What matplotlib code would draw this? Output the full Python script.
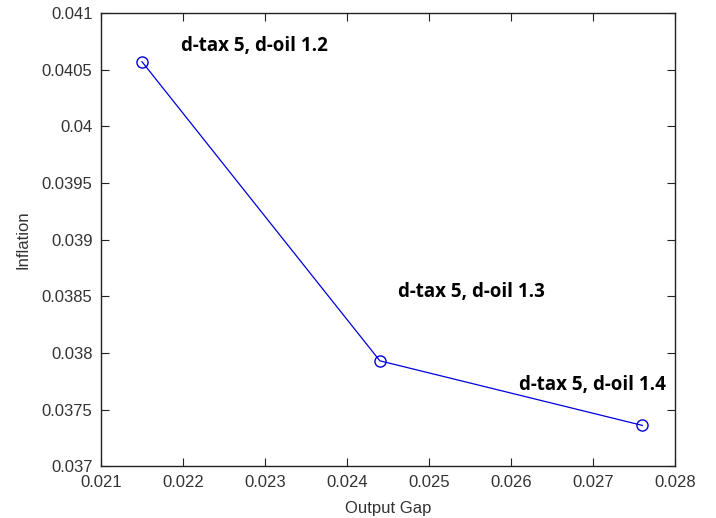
import matplotlib
matplotlib.use("Agg")
import matplotlib.pyplot as plt

output_gap = [0.0215, 0.0244, 0.0276]
inflation = [0.04057, 0.03793, 0.03736]
point_labels = ["d-tax 5, d-oil 1.2", "d-tax 5, d-oil 1.3", "d-tax 5, d-oil 1.4"]
label_x = [0.02198, 0.02462, 0.02610]
label_y = [0.04071, 0.03854, 0.03772]

plt.rcParams['font.family'] = ['Liberation Sans', 'DejaVu Sans']

fig = plt.figure(figsize=(7.16, 5.18), dpi=100)
ax = fig.add_axes([0.141, 0.100, 0.802, 0.875])

ax.plot(output_gap, inflation, color='#0000dd', linewidth=0.9,
        marker='o', markersize=8, markerfacecolor='none', markeredgecolor='#0000dd')

for x, y, s in zip(label_x, label_y, point_labels):
    ax.text(x, y, s, fontsize=13.5, fontweight='bold', family='Open Sans',
            ha='left', va='center')

ax.set_xlim(0.021, 0.028)
ax.set_ylim(0.037, 0.041)
ax.set_xticks([0.021, 0.022, 0.023, 0.024, 0.025, 0.026, 0.027, 0.028])
ax.set_xticklabels(['0.021', '0.022', '0.023', '0.024', '0.025', '0.026', '0.027', '0.028'])
ax.set_yticks([0.037, 0.0375, 0.038, 0.0385, 0.039, 0.0395, 0.04, 0.0405, 0.041])
ax.set_yticklabels(['0.037', '0.0375', '0.038', '0.0385', '0.039', '0.0395', '0.04', '0.0405', '0.041'])
ax.tick_params(direction='in', top=True, right=True, labelsize=12, length=6,
               color='#222222', labelcolor='#333333', pad=6)
for sp in ax.spines.values():
    sp.set_linewidth(1.0)
    sp.set_color('#222222')

ax.set_xlabel('Output Gap', fontsize=12, labelpad=8, color='#333333')
ax.set_ylabel('Inflation', fontsize=12, labelpad=8, color='#333333')

fig.savefig('out.png', dpi=100)
